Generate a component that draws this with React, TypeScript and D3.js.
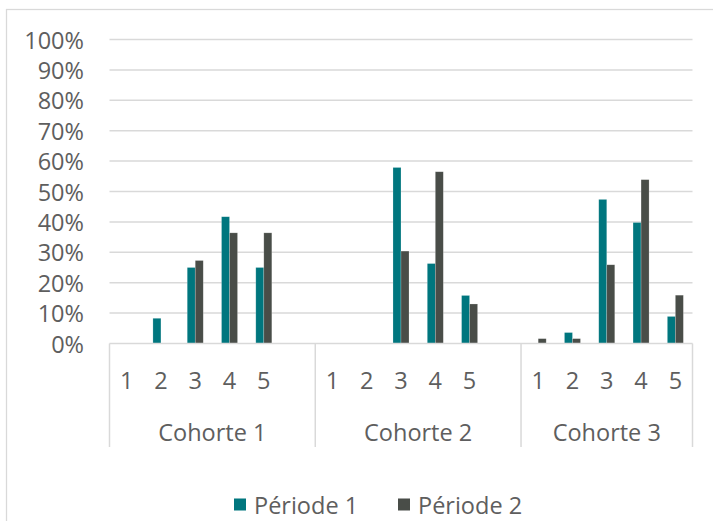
import React from "react";
import * as d3 from "d3";

const cohorts = ["Cohorte 1", "Cohorte 2", "Cohorte 3"];
const subLabels = [
  ["1", "2", "3", "4", "5", ""],
  ["1", "2", "3", "4", "5", ""],
  ["1", "2", "3", "4", "5"],
];
const periode1 = [
  [0, 0.083, 0.25, 0.417, 0.25, null],
  [0, 0, 0.579, 0.263, 0.158, null],
  [0, 0.036, 0.474, 0.398, 0.089],
];
const periode2 = [
  [0, 0, 0.273, 0.364, 0.364, null],
  [0, 0, 0.304, 0.565, 0.13, null],
  [0.016, 0.016, 0.259, 0.539, 0.159],
];
const seriesNames = ["Période 1", "Période 2"];
const seriesColors = ["#00767E", "#494D48"];
const yTicks = [0, 0.1, 0.2, 0.3, 0.4, 0.5, 0.6, 0.7, 0.8, 0.9, 1];

const W = 713;
const H = 521;
const FONT = "'Open Sans', sans-serif";
const TEXT = "#5E5E5E";
const GRID = "#D9D9D9";
const FS = 23.5;

type Slot = { id: string; cohort: number; label: string; values: (number | null)[] };

const slots: Slot[] = [];
cohorts.forEach((_, ci) => {
  subLabels[ci].forEach((lab, si) => {
    slots.push({
      id: `${ci}-${si}`,
      cohort: ci,
      label: lab,
      values: [periode1[ci][si], periode2[ci][si]],
    });
  });
});

export default function App() {
  const left = 109.5;
  const right = 692.5;
  const y0 = 343.5;
  const y1 = 39.5;

  const x = d3.scaleBand<string>().domain(slots.map((s) => s.id)).range([left, right]).padding(0);
  const inner = d3
    .scaleBand<string>()
    .domain(["0", "1"])
    .range([0, x.bandwidth()])
    .paddingInner(0)
    .paddingOuter(1.14);
  const y = d3.scaleLinear().domain([0, 1]).range([y0, y1]);
  const fmt = d3.format(".0%");

  const bounds: number[] = [left];
  const groupCenters: number[] = [];
  cohorts.forEach((_, ci) => {
    const ids = slots.filter((s) => s.cohort === ci).map((s) => s.id);
    const a = x(ids[0])!;
    const b = x(ids[ids.length - 1])! + x.bandwidth();
    groupCenters.push((a + b) / 2);
    bounds.push(b);
  });

  const legendY = 504.5;
  const legendX = [234, 398];

  return (
    <svg
      width={W}
      height={H}
      style={{ position: "absolute", left: 0, top: 0, background: "#fff" }}
      fontFamily={FONT}
      fontWeight={400}
    >
      <rect x={6.5} y={9.5} width={W + 20} height={H + 20} fill="#fff" stroke={GRID} strokeWidth={1.25} />
      {yTicks.map((t) => (
        <g key={t}>
          {t > 0 && (
            <line x1={left} x2={right} y1={y(t)} y2={y(t)} stroke={GRID} strokeWidth={1.5} />
          )}
          <text
            x={84}
            y={y(t)}
            textAnchor="end"
            dominantBaseline="central"
            fontSize={FS}
            fill={TEXT}
          >
            {fmt(t)}
          </text>
        </g>
      ))}
      {slots.map((s) =>
        s.values.map((v, k) =>
          v != null && v > 0 ? (
            <rect
              key={s.id + k}
              x={x(s.id)! + inner(String(k))!}
              y={y(v)}
              width={inner.bandwidth()}
              height={y0 - y(v)}
              fill={seriesColors[k]}
              stroke="rgba(255,255,255,0.35)"
              strokeWidth={0.6}
            />
          ) : null
        )
      )}
      <line x1={left} x2={right} y1={y0} y2={y0} stroke={GRID} strokeWidth={1.5} />
      {bounds.map((b, i) => (
        <line key={i} x1={b} x2={b} y1={y0} y2={447} stroke={GRID} strokeWidth={1.5} />
      ))}
      {slots.map((s) => (
        <text
          key={"l" + s.id}
          x={x(s.id)! + x.bandwidth() / 2}
          y={380}
          textAnchor="middle"
          dominantBaseline="central"
          fontSize={FS}
          fill={TEXT}
        >
          {s.label}
        </text>
      ))}
      {cohorts.map((c, i) => (
        <text
          key={c}
          x={groupCenters[i]}
          y={432}
          textAnchor="middle"
          dominantBaseline="central"
          fontSize={FS}
          fill={TEXT}
        >
          {c}
        </text>
      ))}
      {seriesNames.map((n, i) => (
        <g key={n}>
          <rect x={legendX[i]} y={legendY - 6} width={12} height={12} fill={seriesColors[i]} />
          <text
            x={legendX[i] + 20}
            y={legendY}
            dominantBaseline="central"
            fontSize={FS}
            fill={TEXT}
          >
            {n}
          </text>
        </g>
      ))}
    </svg>
  );
}
